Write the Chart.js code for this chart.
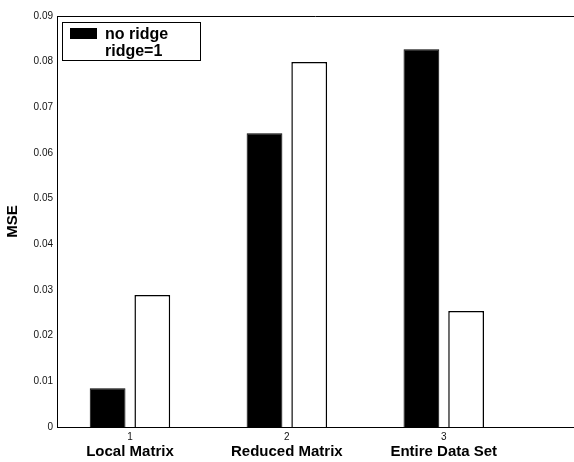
<!DOCTYPE html>
<html>
<head>
<meta charset="utf-8">
<script src="https://cdn.jsdelivr.net/npm/chart.js@4.4.1/dist/chart.umd.min.js"></script>
<style>
  html, body { margin: 0; padding: 0; background: #fff; }
  #wrap { position: relative; width: 574px; height: 462px; }
</style>
</head>
<body>
<div id="wrap"><canvas id="mse-chart" width="574" height="462"></canvas></div>
<script>
// MSE per matrix type, no ridge vs ridge=1
const categories = ['Local Matrix', 'Reduced Matrix', 'Entire Data Set'];
const groupIds = [1, 2, 3];
const noRidge = [0.0085, 0.0643, 0.0827];
const ridge1 = [0.0289, 0.0799, 0.0254];
const yTicks = [0, 0.01, 0.02, 0.03, 0.04, 0.05, 0.06, 0.07, 0.08, 0.09];

const font = "'Liberation Sans', Arial, sans-serif";

// legend box drawn inside the plot, top-left
const insideLegend = {
  id: 'insideLegend',
  afterDraw(chart) {
    const ctx = chart.ctx;
    const a = chart.chartArea;
    const x = a.left + 5, y = a.top + 6;
    ctx.save();
    ctx.fillStyle = '#fff';
    ctx.fillRect(x, y, 138, 38);
    ctx.strokeStyle = '#000';
    ctx.lineWidth = 1;
    ctx.strokeRect(x + 0.5, y + 0.5, 138, 38);
    ctx.fillStyle = '#000';
    ctx.fillRect(x + 8, y + 6, 27, 11);
    ctx.font = 'bold 16px ' + font;
    ctx.textBaseline = 'middle';
    ctx.fillText('no ridge', x + 43, y + 13);
    ctx.fillText('ridge=1', x + 43, y + 30);
    ctx.restore();
  }
};

// top frame line
const frame = {
  id: 'frame',
  afterDatasetsDraw(chart) {
    const ctx = chart.ctx;
    const a = chart.chartArea;
    ctx.save();
    ctx.strokeStyle = '#000';
    ctx.lineWidth = 1;
    ctx.beginPath();
    ctx.moveTo(a.left, a.top + 0.5);
    ctx.lineTo(a.right, a.top + 0.5);
    ctx.stroke();
    ctx.restore();
  }
};

const xMin = 0.535, xMax = 3.83;

new Chart(document.getElementById('mse-chart'), {
  type: 'bar',
  data: {
    datasets: [
      {
        label: 'no ridge',
        data: groupIds.map((g, i) => ({ x: g, y: noRidge[i] })),
        backgroundColor: '#000',
        borderColor: '#000',
        borderWidth: 1,
        categoryPercentage: 0.57,
        barPercentage: 0.8
      },
      {
        label: 'ridge=1',
        data: groupIds.map((g, i) => ({ x: g, y: ridge1[i] })),
        backgroundColor: '#fff',
        borderColor: '#000',
        borderWidth: 1.5,
        categoryPercentage: 0.57,
        barPercentage: 0.8
      }
    ]
  },
  options: {
    responsive: false,
    animation: false,
    layout: { padding: { top: 16, right: 0, left: 4, bottom: 0 } },
    plugins: { legend: { display: false }, tooltip: { enabled: false } },
    scales: {
      x: {
        type: 'linear',
        position: 'bottom',
        offset: false,
        min: xMin,
        max: xMax,
        afterBuildTicks: s => { s.ticks = groupIds.map(v => ({ value: v })); },
        afterFit: s => { s.height = 16; },
        grid: { display: false, drawTicks: false, offset: false },
        border: { display: true, color: '#000', width: 1 },
        ticks: { color: '#111', font: { family: font, size: 10 }, padding: 4, callback: v => String(v) }
      },
      x2: {
        type: 'linear',
        position: 'bottom',
        offset: false,
        min: xMin,
        max: xMax,
        afterBuildTicks: s => { s.ticks = groupIds.map(v => ({ value: v })); },
        afterFit: s => { s.height = 19; },
        grid: { display: false, drawTicks: false, offset: false },
        border: { display: false },
        ticks: { color: '#000', font: { family: font, size: 15, weight: 'bold' }, padding: 0,
          callback: v => categories[groupIds.indexOf(v)] }
      },
      y: {
        min: 0,
        max: 0.09,
        afterBuildTicks: s => { s.ticks = yTicks.map(v => ({ value: v })); },
        afterFit: s => { s.width = 53; },
        grid: { display: false, drawTicks: false },
        border: { display: true, color: '#000', width: 1 },
        title: { display: true, text: 'MSE', color: '#000', font: { family: font, size: 15, weight: 'bold' }, padding: 0 },
        ticks: { color: '#111', font: { family: font, size: 10 }, padding: 4,
          callback: v => v === 0 ? '0' : v.toFixed(2) }
      }
    }
  },
  plugins: [insideLegend, frame]
});
</script>
</body>
</html>
